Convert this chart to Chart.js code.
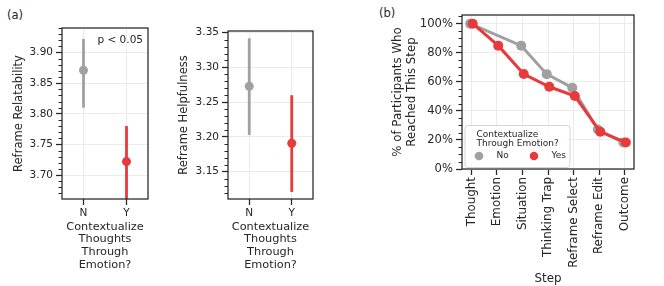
<!DOCTYPE html>
<html>
<head>
<meta charset="utf-8">
<script src="https://cdn.jsdelivr.net/npm/chart.js@4.4.1/dist/chart.umd.min.js"></script>
<style>
  body { margin: 0; background: #fff; width: 664px; height: 286px; position: relative; overflow: hidden; font-family: "DejaVu Sans", sans-serif; }
  canvas { position: absolute; top: 0; }
  .tag { position: absolute; font-size: 11.5px; line-height: 12px; color: #262626; }
</style>
</head>
<body>
<div class="tag" style="left:7px;top:9px">(a)</div>
<div class="tag" style="left:379px;top:7px">(b)</div>
<canvas id="relat" width="165" height="286" style="left:0"></canvas>
<canvas id="helpf" width="170" height="286" style="left:165px"></canvas>
<canvas id="steps" width="284" height="286" style="left:380px"></canvas>
<script>
// panel (a): mean + 95% CI per group
const groups = ['N', 'Y'];
const relatMean = [3.871, 3.722];
const relatLow = [3.810, 3.655];
const relatHigh = [3.922, 3.780];
const helpMean = [3.273, 3.191];
const helpLow = [3.203, 3.121];
const helpHigh = [3.342, 3.260];

// panel (b): % of participants reaching each step
const steps = ['Thought', 'Emotion', 'Situation', 'Thinking Trap', 'Reframe Select', 'Reframe Edit', 'Outcome'];
const reachNo = [100, null, 84.9, 65.3, 56.0, 27.2, 18.2];
const reachYes = [100, 84.9, 65.4, 56.6, 50.2, 25.6, 18.3];
const seriesNames = ['No', 'Yes'];

const GRAY = '#a0a0a0';
const RED = '#e8393b';
const INK = '#262626';
const FONT = 'DejaVu Sans';

Chart.defaults.font.family = FONT;
Chart.defaults.color = INK;

// full box + minor y ticks, like matplotlib
function framePlugin(minorStep, majorStep) {
  return {
    id: 'frame',
    afterDraw(chart) {
      const { ctx, chartArea: a } = chart;
      const y = chart.scales.y;
      ctx.save();
      ctx.strokeStyle = INK;
      ctx.lineWidth = 1;
      const start = Math.ceil(y.min / minorStep - 1e-6);
      for (let k = start; k * minorStep <= y.max + 1e-9; k++) {
        const v = k * minorStep;
        const r = v / majorStep;
        if (Math.abs(r - Math.round(r)) < 1e-6) continue;
        const py = Math.round(y.getPixelForValue(v)) + 0.5;
        ctx.beginPath();
        ctx.moveTo(a.left - 3.5, py);
        ctx.lineTo(a.left, py);
        ctx.stroke();
      }
      ctx.lineWidth = 1.25;
      ctx.strokeRect(a.left, a.top, a.right - a.left, a.bottom - a.top);
      ctx.restore();
    }
  };
}

function gridOpts() {
  return { color: '#ebebeb', lineWidth: 1, tickColor: INK, tickLength: 6, tickWidth: 1.25 };
}

function ciChart(id, mean, low, high, yTitle, yMin, yMax, pad, yWidth, note) {
  const colors = [GRAY, RED];
  const datasets = [{
    type: 'scatter',
    data: mean.map((m, i) => ({ x: i, y: m })),
    pointRadius: 4.5,
    pointHoverRadius: 4.5,
    pointBackgroundColor: colors,
    pointBorderWidth: 0
  }];
  groups.forEach((g, i) => {
    datasets.push({
      type: 'line',
      data: [{ x: i, y: low[i] }, { x: i, y: high[i] }],
      borderColor: colors[i],
      borderWidth: 2.8,
      pointRadius: 0
    });
  });
  const plugins = [framePlugin(0.01, 0.05)];
  if (note) {
    plugins.push({
      id: 'note',
      afterDraw(chart) {
        const { ctx, chartArea: a } = chart;
        ctx.save();
        ctx.font = '10.5px "' + FONT + '"';
        ctx.fillStyle = INK;
        ctx.textAlign = 'right';
        ctx.textBaseline = 'middle';
        ctx.fillText(note, a.right - 5, a.top + 12);
        ctx.restore();
      }
    });
  }
  return new Chart(document.getElementById(id), {
    data: { datasets },
    options: {
      responsive: false,
      animation: false,
      devicePixelRatio: 1,
      layout: { padding: pad },
      plugins: { legend: { display: false }, tooltip: { enabled: false } },
      scales: {
        x: {
          type: 'linear', min: -0.5, max: 1.5,
          afterBuildTicks(s) { s.ticks = groups.map((_, i) => ({ value: i })); },
          afterFit(s) { s.height = 72.4; },
          ticks: { callback: v => groups[v], font: { size: 10.5 }, padding: 2, maxRotation: 0 },
          grid: gridOpts(),
          border: { display: false },
          title: { display: true, text: ['Contextualize', 'Thoughts', 'Through', 'Emotion?'], font: { size: 11.3, lineHeight: 1.13 }, padding: 0 }
        },
        y: {
          type: 'linear', min: yMin, max: yMax,
          afterFit(s) { s.width = yWidth; },
          ticks: { stepSize: 0.05, includeBounds: false, callback: v => v.toFixed(2), font: { size: 10.5 }, padding: 3 },
          grid: gridOpts(),
          border: { display: false },
          title: { display: true, text: yTitle, font: { size: 11.5 }, padding: 0 }
        }
      }
    },
    plugins
  });
}

ciChart('relat', relatMean, relatLow, relatHigh, 'Reframe Relatability', 3.661, 3.940,
  { left: 12, top: 28, right: 17, bottom: 14.6 }, 50, 'p < 0.05');
ciChart('helpf', helpMean, helpLow, helpHigh, 'Reframe Helpfulness', 3.1108, 3.3524,
  { left: 12, top: 31, right: 22, bottom: 14.6 }, 51, null);

// panel (b)
const dodge = [-0.05, 0.05];
const seriesColors = [GRAY, RED];
const legendPlugin = {
  id: 'boxLegend',
  afterDatasetsDraw(chart) {
    const { ctx, chartArea: a } = chart;
    const w = 105, h = 42;
    const x0 = a.left + 3, y0 = a.bottom - 1.5 - h;
    ctx.save();
    ctx.beginPath();
    ctx.roundRect(x0, y0, w, h, 3);
    ctx.fillStyle = 'rgba(255,255,255,0.8)';
    ctx.fill();
    ctx.strokeStyle = '#d4d4d4';
    ctx.lineWidth = 1;
    ctx.stroke();
    ctx.font = '9px "' + FONT + '"';
    ctx.fillStyle = INK;
    ctx.textBaseline = 'middle';
    ctx.textAlign = 'left';
    ctx.fillText('Contextualize', x0 + 11.5, y0 + 9);
    ctx.fillText('Through Emotion?', x0 + 11.5, y0 + 18.5);
    seriesNames.forEach((name, i) => {
      const mx = x0 + 14 + i * 55;
      ctx.beginPath();
      ctx.arc(mx, y0 + 30.5, 4.3, 0, Math.PI * 2);
      ctx.fillStyle = seriesColors[i];
      ctx.fill();
      ctx.fillStyle = INK;
      ctx.fillText(name, mx + 17.5, y0 + 30.5);
    });
    ctx.restore();
  }
};

new Chart(document.getElementById('steps'), {
  type: 'line',
  data: {
    datasets: [reachNo, reachYes].map((vals, s) => ({
      label: seriesNames[s],
      data: vals.map((v, i) => ({ x: i + dodge[s], y: v })),
      borderColor: seriesColors[s],
      backgroundColor: seriesColors[s],
      borderWidth: 3,
      pointRadius: 5,
      pointHoverRadius: 5,
      pointBorderWidth: 0,
      spanGaps: true,
      order: 2 - s
    }))
  },
  options: {
    responsive: false,
    animation: false,
    devicePixelRatio: 1,
    layout: { padding: { left: 11.6, top: 15, right: 30, bottom: 0 } },
    plugins: { legend: { display: false }, tooltip: { enabled: false } },
    scales: {
      x: {
        type: 'linear', min: -0.37, max: 6.37,
        afterBuildTicks(s) { s.ticks = steps.map((_, i) => ({ value: i })); },
        afterFit(s) { s.height = 117; },
        ticks: { callback: v => steps[v], font: { size: 11.9 }, padding: 2, minRotation: 90, maxRotation: 90, autoSkip: false },
        grid: gridOpts(),
        border: { display: false },
        title: { display: true, text: 'Step', font: { size: 11.9 }, padding: 0 }
      },
      y: {
        type: 'linear', min: 0, max: 106,
        afterFit(s) { s.width = 70.4; },
        ticks: { stepSize: 20, includeBounds: false, callback: v => v + '%', font: { size: 11.6 }, padding: 3 },
        grid: gridOpts(),
        border: { display: false },
        title: { display: true, text: ['% of Participants Who', 'Reached This Step'], font: { size: 11.8, lineHeight: 1.13 }, padding: 0 }
      }
    }
  },
  plugins: [framePlugin(5, 20), legendPlugin]
});
</script>
</body>
</html>
